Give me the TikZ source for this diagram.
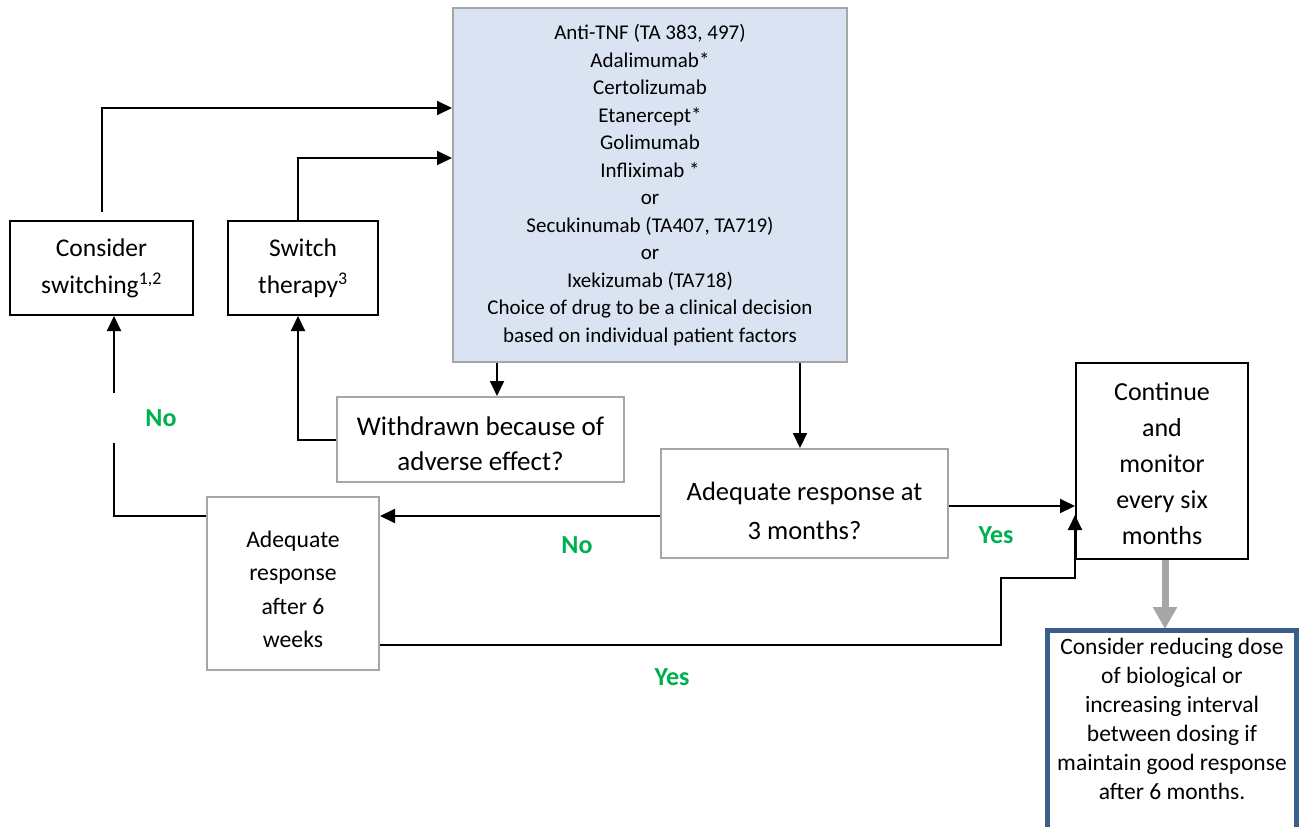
\documentclass[tikz,border=0pt]{standalone}
\usepackage{fontspec}
\setmainfont{Carlito}
\usetikzlibrary{arrows.meta}
\definecolor{boxgray}{RGB}{166,166,166}
\definecolor{bluefill}{RGB}{218,227,242}
\definecolor{ygreen}{RGB}{0,176,80}
\definecolor{darkblue}{RGB}{58,95,139}
\begin{document}
\begin{tikzpicture}[x=1pt,y=-1pt,
  gbox/.style={draw=boxgray,line width=2pt,fill=white,align=center,inner sep=0pt},
  kbox/.style={draw=black,line width=2pt,fill=white,align=center,inner sep=0pt},
  txt/.style={align=center,inner sep=0pt},
  conn/.style={line width=2pt,-{Triangle[length=15pt,width=14pt]}},
  thick arrow/.style={draw=boxgray,line width=7pt,-{Triangle[length=22pt,width=23pt]}},
  lab/.style={text=ygreen,font=\fontsize{26}{30}\selectfont\bfseries,inner sep=0pt}]
\useasboundingbox (0,0) rectangle (1299,827);
\begin{scope}
\clip (0,0) rectangle (1299,827);
% nodes
\node[gbox,fill=bluefill,minimum width=394pt,minimum height=354pt,font=\fontsize{21}{27.5}\selectfont] (main) at (650,185)
  {Anti-TNF (TA 383, 497)\\Adalimumab*\\Certolizumab\\Etanercept*\\Golimumab\\Infliximab *\\or\\Secukinumab (TA407, TA719)\\or\\Ixekizumab (TA718)\\Choice of drug to be a clinical decision\\based on individual patient factors};
\node[kbox,minimum width=183pt,minimum height=94pt,font=\fontsize{25.5}{37}\selectfont] (CS) at (101.5,268)
  {Consider\\switching\textsuperscript{1,2}};
\node[kbox,minimum width=150pt,minimum height=94pt,font=\fontsize{25.5}{37}\selectfont] (ST) at (303,268)
  {Switch\\therapy\textsuperscript{3}};
\node[gbox,minimum width=287pt,minimum height=85pt] (WD) at (480.5,439.5) {};
\node[txt,font=\fontsize{27}{35}\selectfont] (WDt) at ([yshift=-4pt]WD.center)
  {Withdrawn because of\\adverse effect?};
\node[gbox,minimum width=287pt,minimum height=109pt] (A3) at (804.5,503.5) {};
\node[txt,font=\fontsize{26.5}{39}\selectfont] (A3t) at ([yshift=-7pt]A3.center)
  {Adequate response at\\3 months?};
\node[kbox,minimum width=172pt,minimum height=196pt] (CT) at (1162,461) {};
\node[txt,font=\fontsize{26}{36}\selectfont] (CTt) at ([yshift=-3pt]CT.center)
  {Continue\\and\\monitor\\every six\\months};
\node[gbox,minimum width=172pt,minimum height=173pt] (A6) at (293,583.5) {};
\node[txt,font=\fontsize{23.7}{33.5}\selectfont] (A6t) at ([yshift=-6pt]A6.center)
  {Adequate\\response\\after 6\\weeks};
\node[txt,minimum width=249pt,minimum height=190pt,font=\fontsize{23.5}{29}\selectfont] (CR) at (1172,719)
  {Consider reducing dose\\of biological or\\increasing interval\\between dosing if\\maintain good response\\after 6 months.};
\draw[darkblue,line width=4.5pt] ([yshift=-20pt]CR.south west) |- (1172,630.5) -| ([yshift=-20pt]CR.south east);
\end{scope}
% helper coordinates
\coordinate (t1) at (0,108);
\coordinate (t2) at (0,158);
\coordinate (a) at (497,0);
\coordinate (b) at (800,0);
\coordinate (c) at (0,506);
\coordinate (d) at (0,516);
\coordinate (e) at (114,0);
\coordinate (f) at (1001,645);
\coordinate (g) at (0,578);
\coordinate (h) at (0,515);
\coordinate (j) at (1165,0);
% connectors
\draw[conn] ([yshift=8pt]CS.north) |- (main.west |- t1);
\draw[conn] ([xshift=-5pt]ST.north) |- (main.west |- t2);
\draw[conn] (main.south -| a) -- (WD.north -| a);
\draw[conn] (main.south -| b) -- (A3.north -| b);
\draw[conn] (WD.west) -| ([xshift=-5pt]ST.south);
\draw[conn] (A3.east |- c) -- (CT.west |- c);
\draw[conn] (A3.west |- d) -- (A6.east |- d);
\draw[conn] (A6.west |- d) -| (CS.south -| e);
\draw[conn] (A6.east |- f) -- (f) |- (CT.west |- g) -- (CT.west |- h);
\draw[thick arrow] (CT.south -| j) -- (1165,629);
% labels
\node[lab,fill=white,minimum width=98pt,minimum height=50pt] (no1) at (161,418) {No};
\node[lab] (no2) at (577,545) {No};
\node[lab] (yes1) at (996,535) {Yes};
\node[lab] (yes2) at (672,677) {Yes};
\end{tikzpicture}
\end{document}
